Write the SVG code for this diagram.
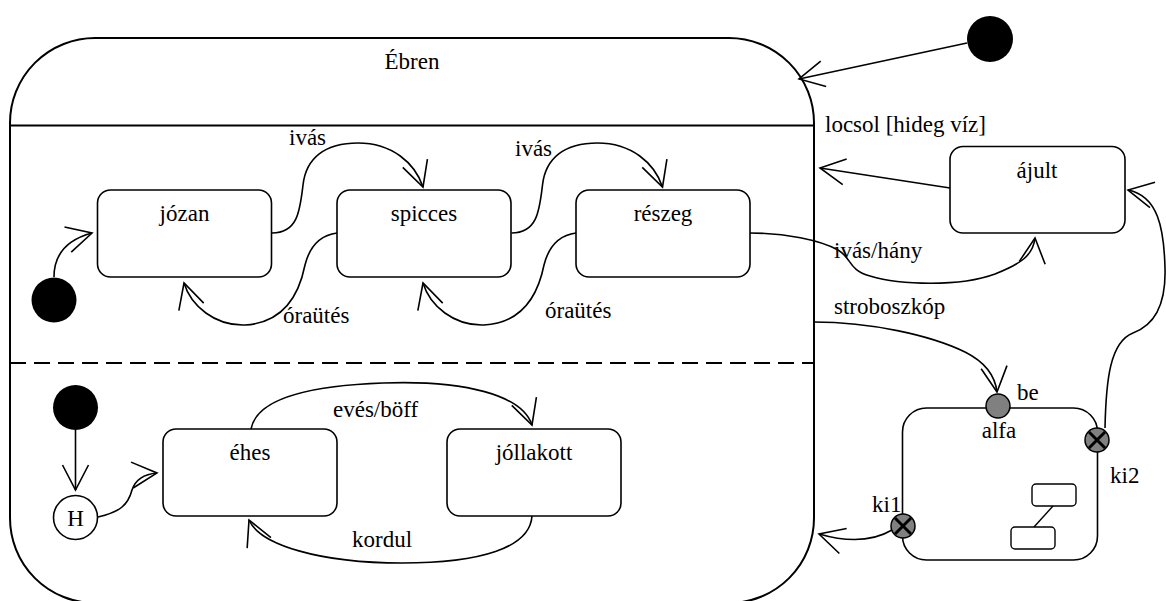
<svg xmlns="http://www.w3.org/2000/svg" width="1166" height="601" viewBox="0 0 1166 601">
<style>
text{font-family:'Liberation Serif','DejaVu Serif',serif;font-size:23px;fill:#000}
.st{fill:#fff;stroke:#000;stroke-width:1.6}
.tr{fill:none;stroke:#000;stroke-width:1.6;marker-end:url(#arr)}
.dot{fill:#000}
.pt{fill:#808080;stroke:#000;stroke-width:1.5}
.x{stroke:#000;stroke-width:3}
.mid{text-anchor:middle}
</style>
<defs>
<marker id="arr" viewBox="-28 -15 30 30" markerWidth="30" markerHeight="30" refX="0" refY="0" orient="auto" markerUnits="userSpaceOnUse" overflow="visible"><path d="M-25,-13 L0,0 L-25,13" fill="none" stroke="#000" stroke-width="1.6"/></marker>
</defs>
<rect width="1166" height="601" fill="#fff"/>
<g id="ebren">
<rect x="10" y="38" width="804" height="565" rx="85" ry="85" fill="#fff" stroke="#000" stroke-width="2"/>
<line x1="10" y1="125.5" x2="814" y2="125.5" stroke="#000" stroke-width="2"/>
<line x1="10" y1="363" x2="814" y2="363" stroke="#000" stroke-width="2" stroke-dasharray="16 8"/>
<text class="mid" x="412" y="69">Ébren</text>
</g>
<g id="init-top"><circle class="dot" cx="990" cy="39" r="23"/></g>
<g id="init-r1"><circle class="dot" cx="54" cy="300" r="22.5"/></g>
<g id="init-r2"><circle class="dot" cx="75.5" cy="407.5" r="22.5"/></g>
<g id="history"><circle cx="75.5" cy="517.5" r="22" fill="#fff" stroke="#000" stroke-width="1.6"/><text class="mid" x="75.5" y="526">H</text></g>
<g id="jozan"><rect class="st" x="97.5" y="190" width="174" height="87" rx="13"/><text class="mid" x="184.5" y="221">józan</text></g>
<g id="spicces"><rect class="st" x="337" y="190" width="174" height="87" rx="13"/><text class="mid" x="424" y="221">spicces</text></g>
<g id="reszeg"><rect class="st" x="576" y="190" width="174" height="87" rx="13"/><text class="mid" x="663" y="221">részeg</text></g>
<g id="ajult"><rect class="st" x="950" y="146.5" width="175" height="86.5" rx="13"/><text class="mid" x="1037" y="178">ájult</text></g>
<g id="ehes"><rect class="st" x="163" y="429" width="174" height="87" rx="13"/><text class="mid" x="250" y="460">éhes</text></g>
<g id="jollakott"><rect class="st" x="447" y="429" width="174" height="87" rx="13"/><text class="mid" x="534" y="460">jóllakott</text></g>
<g id="alfa">
<rect class="st" x="902.5" y="408" width="195" height="152" rx="24"/>
<text class="mid" x="999" y="438">alfa</text>
<rect x="1032" y="484" width="44" height="22" rx="4" fill="#fff" stroke="#000" stroke-width="1.4"/>
<rect x="1011" y="527" width="44" height="22" rx="4" fill="#fff" stroke="#000" stroke-width="1.4"/>
<line x1="1053" y1="506" x2="1034" y2="527" stroke="#000" stroke-width="1.4"/>
</g>
<g id="be"><circle class="pt" cx="998" cy="406" r="12"/><text x="1017" y="400">be</text></g>
<g id="ki2"><circle class="pt" cx="1097" cy="440" r="12"/><line class="x" x1="1089" y1="432" x2="1105" y2="448"/><line class="x" x1="1105" y1="432" x2="1089" y2="448"/><text x="1110" y="483">ki2</text></g>
<g id="ki1"><circle class="pt" cx="903" cy="526" r="12"/><line class="x" x1="895" y1="518" x2="911" y2="534"/><line class="x" x1="911" y1="518" x2="895" y2="534"/><text x="872" y="512">ki1</text></g>
<g id="connectors">
<path class="tr" d="M967,43 L799,79"/>
<path class="tr" d="M950,188 L820,168"/>
<path class="tr" d="M54,277 C54,255 66,240 92,233"/>
<path class="tr" d="M272,233 C298,233 300,210 303,185 C306,158 325,143 358,143 C392,143 415,163 423,187"/>
<path class="tr" d="M511.5,233 C537.5,233 539.5,210 542.5,185 C545.5,158 564.5,143 597.5,143 C631.5,143 654.5,163 662.5,187"/>
<path class="tr" d="M337,233 C322,235 310,245 305,265 C298,300 280,323 245,325 C215,326 191,306 184,283"/>
<path class="tr" d="M576,233 C561,235 549,245 544,265 C537,300 519,323 484,325 C454,326 430,306 423,283"/>
<path class="tr" d="M750,233 C785,233 820,240 838,250 C852,258 848,270 870,276 C900,285 960,287 995,274 C1020,264 1033,256 1035,238"/>
<path class="tr" d="M814,322 C870,322 930,335 965,352 C985,362 995,375 997,392"/>
<path class="tr" d="M892,530 C875,540 850,543 819,534"/>
<path class="tr" d="M1105,428 C1106,380 1110,342 1133,333 C1158,324 1166,300 1165,268 C1164,228 1158,196 1128,190"/>
<path class="tr" d="M75.5,430 L75.5,490"/>
<path class="tr" d="M98,517 C120,512 128,505 132,490 C136,478 145,474 157,473"/>
<path class="tr" d="M251,429 C256,402 300,386 383,383 C465,380 522,395 532,425"/>
<path class="tr" d="M532,516 C530,548 480,563 402,563 C320,563 260,545 249,520"/>
<text x="825" y="132">locsol [hideg víz]</text>
<text x="289" y="145">ivás</text>
<text x="515" y="156">ivás</text>
<text x="283" y="323">óraütés</text>
<text x="545" y="318">óraütés</text>
<text x="834" y="258">ivás/hány</text>
<text x="834" y="314">stroboszkóp</text>
<text x="333" y="417">evés/böff</text>
<text x="352" y="547">kordul</text>
</g>
</svg>
